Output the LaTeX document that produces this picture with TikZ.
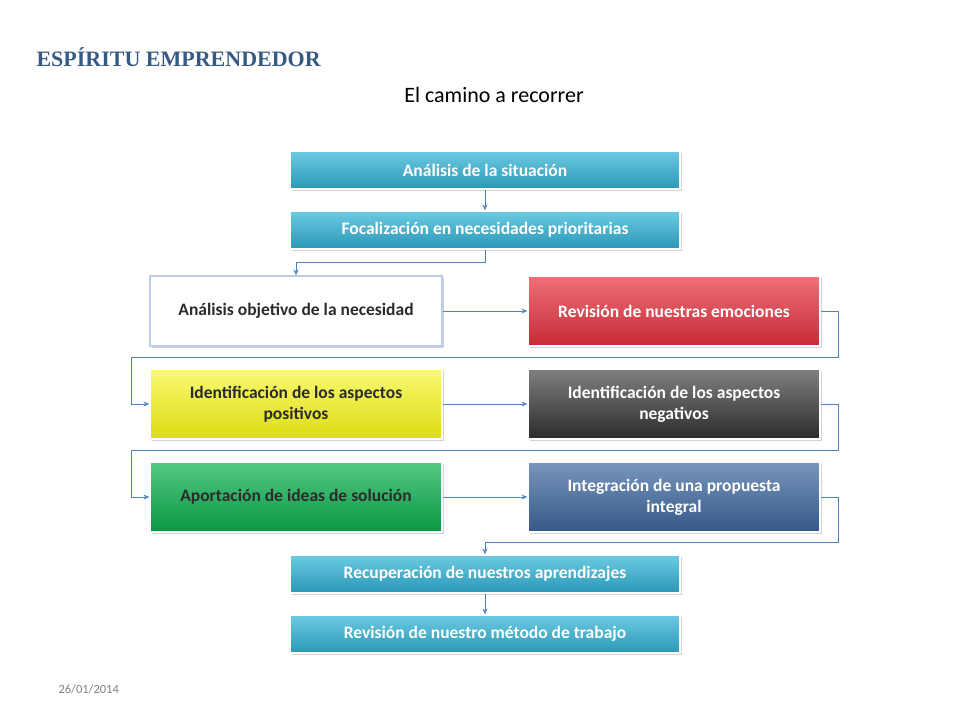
\documentclass[tikz,border=0pt]{standalone}
\usepackage{fontspec}
\setmainfont{Carlito}
\newfontfamily\serifb{Liberation Serif}
\usetikzlibrary{arrows.meta,shadows}
\definecolor{cy}{HTML}{2FB3D6}
\definecolor{rd}{HTML}{E8323F}
\definecolor{bk}{HTML}{2B2B2B}
\definecolor{yl}{HTML}{F5F514}
\definecolor{gr}{HTML}{0BB14E}
\definecolor{bl}{HTML}{3E68A0}
\definecolor{ln}{HTML}{4F81BD}
\tikzset{
 bx/.style={draw=white,line width=1.2pt,minimum width=#1,inner sep=2pt,align=center,
   font=\fontsize{17.5}{21}\selectfont\bfseries,text=white,drop shadow={opacity=0.35,shadow xshift=2pt,shadow yshift=-2pt}},
 top/.style={bx=390pt,minimum height=38pt,top color=cy!70!white,bottom color=cy!85!black},
 side/.style={bx=292pt,minimum height=70pt},
 con/.style={draw=ln,line width=0.8pt},
 arr/.style={con,-{Stealth[length=6pt,width=5pt,open]}}
}
\begin{document}
\begin{tikzpicture}[x=1pt,y=-1pt]
\useasboundingbox (0,0) rectangle (960,720);
\node[anchor=west,font=\serifb\fontsize{22}{25}\selectfont\bfseries,text=ln!70!black] (t) at (33,57) {ESPÍRITU EMPRENDEDOR};
\node[font=\fontsize{22}{25}\selectfont] (s) at (494,95) {El camino a recorrer};
\node[anchor=west,font=\fontsize{12.5}{14}\selectfont,text=gray] (d) at (55,689) {26/01/2014};

\node[top] (a) at (485,170) {Análisis de la situación};
\node[top] (b) at (485,230) {Focalización en necesidades prioritarias};
\node[side,fill=white,draw=ln!40,text=bk] (l1) at (296,311) {Análisis objetivo de la necesidad};
\node[side,top color=rd!70!white,bottom color=rd!85!black] (r1) at (674,311) {Revisión de nuestras emociones};
\node[side,top color=yl!60!white,bottom color=yl!90!black,text=bk] (l2) at (296,404) {Identificación de los aspectos\\positivos};
\node[side,top color=bk!60,bottom color=bk] (r2) at (674,404) {Identificación de los aspectos\\negativos};
\node[side,top color=gr!70!white,bottom color=gr!85!black,text=bk] (l3) at (296,497) {Aportación de ideas de solución};
\node[side,top color=bl!70!white,bottom color=bl!85!black] (r3) at (674,497) {Integración de una propuesta\\integral};
\node[top] (c) at (485,574) {Recuperación de nuestros aprendizajes};
\node[top] (e) at (485,634) {Revisión de nuestro método de trabajo};

\draw[arr] (a) -- (b);
\draw[arr] (b.south) |- (296,262) -- (l1.north);
\draw[arr] (l1) -- (r1);
\draw[arr] (r1.east) -| (838,357) -| (131,404) -- (l2.west);
\draw[arr] (l2) -- (r2);
\draw[arr] (r2.east) -| (838,450) -| (131,497) -- (l3.west);
\draw[arr] (l3) -- (r3);
\draw[arr] (r3.east) -| (838,542) -| (c.north);
\draw[arr] (c) -- (e);
\end{tikzpicture}
\end{document}
